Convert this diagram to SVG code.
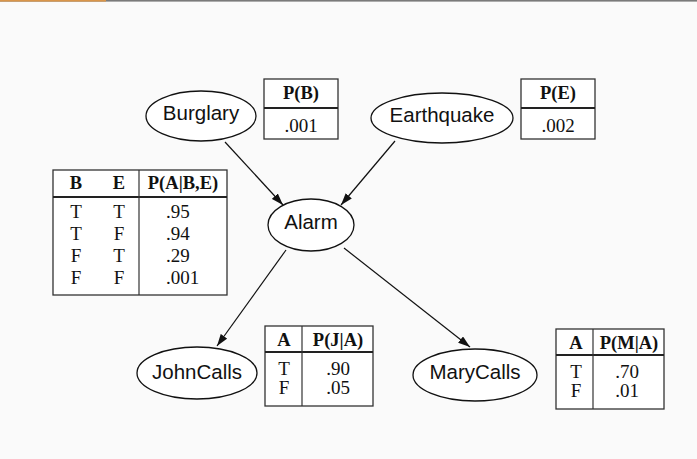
<svg xmlns="http://www.w3.org/2000/svg" width="697" height="459" viewBox="0 0 697 459">
<defs>
<marker id="ah" viewBox="0 0 12 8" refX="12" refY="4" markerWidth="12" markerHeight="8" markerUnits="userSpaceOnUse" orient="auto">
<path d="M0,0 L12,4 L0,8 Z" fill="#111"/>
</marker>
<style>
.node{fill:#fff;stroke:#111;stroke-width:1.3}
.lbl{font-family:"Liberation Sans",Arial,sans-serif;font-size:20.5px;fill:#111;text-anchor:middle}
.tb{fill:#fff;stroke:#333;stroke-width:1.3}
.hs{stroke:#222;stroke-width:2.2}
.vs{stroke:#333;stroke-width:1.2}
.th{font-family:"Liberation Serif","Times New Roman",serif;font-size:18.5px;font-weight:bold;fill:#111;text-anchor:middle}
.td{font-family:"Liberation Serif","Times New Roman",serif;font-size:19px;fill:#111;text-anchor:middle}
.tdl{font-family:"Liberation Serif","Times New Roman",serif;font-size:19px;fill:#111}
.edge{stroke:#111;stroke-width:1.2;fill:none;marker-end:url(#ah)}
</style>
</defs>
<rect x="0" y="0" width="697" height="459" fill="#fafafa"/>
<rect x="0" y="0" width="697" height="1.6" fill="#7a7a7a"/>
<rect x="0" y="0" width="106" height="1.6" fill="#d9954a"/>

<g id="connectors">
<line class="edge" x1="225" y1="142" x2="283" y2="205"/>
<line class="edge" x1="395" y1="141" x2="341" y2="205"/>
<line class="edge" x1="286" y1="250" x2="217" y2="346"/>
<line class="edge" x1="344" y1="248" x2="470" y2="347"/>
</g>

<g id="burglary">
<ellipse class="node" cx="201" cy="116" rx="55" ry="25"/>
<text class="lbl" x="201" y="120">Burglary</text>
</g>
<g id="pb-table">
<rect class="tb" x="264" y="79" width="74" height="60"/>
<line class="hs" x1="264" y1="108" x2="338" y2="108"/>
<text class="th" x="301" y="99">P(B)</text>
<text class="td" x="301" y="132">.001</text>
</g>

<g id="earthquake">
<ellipse class="node" cx="442" cy="118" rx="71" ry="25"/>
<text class="lbl" x="442" y="122">Earthquake</text>
</g>
<g id="pe-table">
<rect class="tb" x="521" y="79" width="74" height="60"/>
<line class="hs" x1="521" y1="108" x2="595" y2="108"/>
<text class="th" x="558" y="99">P(E)</text>
<text class="td" x="558" y="132">.002</text>
</g>

<g id="alarm">
<ellipse class="node" cx="311" cy="225" rx="43" ry="26"/>
<text class="lbl" x="311" y="229">Alarm</text>
</g>
<g id="pa-table">
<rect class="tb" x="53" y="170" width="174" height="125"/>
<line class="hs" x1="53" y1="197" x2="227" y2="197"/>
<line class="vs" x1="139" y1="170" x2="139" y2="295"/>
<text class="th" x="76" y="189">B</text>
<text class="th" x="119" y="189">E</text>
<text class="th" x="183" y="189">P(A|B,E)</text>
<text class="td" x="76" y="218">T</text><text class="td" x="119" y="218">T</text><text class="tdl" x="166" y="218">.95</text>
<text class="td" x="76" y="240">T</text><text class="td" x="119" y="240">F</text><text class="tdl" x="166" y="240">.94</text>
<text class="td" x="76" y="262">F</text><text class="td" x="119" y="262">T</text><text class="tdl" x="166" y="262">.29</text>
<text class="td" x="76" y="284">F</text><text class="td" x="119" y="284">F</text><text class="tdl" x="166" y="284">.001</text>
</g>

<g id="johncalls">
<ellipse class="node" cx="197" cy="373" rx="60" ry="26"/>
<text class="lbl" x="197" y="379">JohnCalls</text>
</g>
<g id="pj-table">
<rect class="tb" x="265" y="326" width="108" height="80"/>
<line class="hs" x1="265" y1="352" x2="373" y2="352"/>
<line class="vs" x1="302" y1="326" x2="302" y2="406"/>
<text class="th" x="284" y="346">A</text>
<text class="th" x="338" y="346">P(J|A)</text>
<text class="td" x="284" y="375">T</text><text class="td" x="338" y="375">.90</text>
<text class="td" x="284" y="394">F</text><text class="td" x="338" y="394">.05</text>
</g>

<g id="marycalls">
<ellipse class="node" cx="475" cy="375" rx="62" ry="26"/>
<text class="lbl" x="475" y="379">MaryCalls</text>
</g>
<g id="pm-table">
<rect class="tb" x="556" y="329" width="108" height="80"/>
<line class="hs" x1="556" y1="355" x2="664" y2="355"/>
<line class="vs" x1="593" y1="329" x2="593" y2="409"/>
<text class="th" x="576" y="349">A</text>
<text class="th" x="629" y="349">P(M|A)</text>
<text class="td" x="576" y="378">T</text><text class="td" x="627" y="378">.70</text>
<text class="td" x="576" y="397">F</text><text class="td" x="627" y="397">.01</text>
</g>
</svg>
